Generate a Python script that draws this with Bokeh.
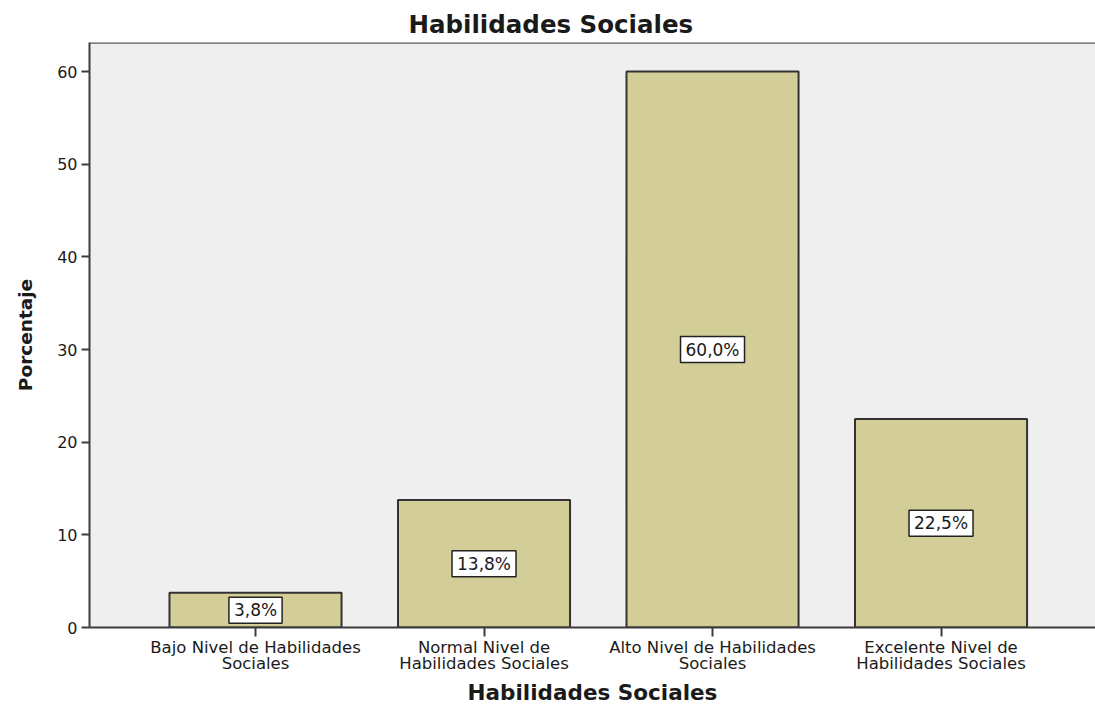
from bokeh.plotting import figure
from bokeh.models import ColumnDataSource, FixedTicker, Span, Range1d
from bokeh.core.properties import value
from bokeh.embed import file_html
from bokeh.resources import INLINE

# ---- data ----
categories = [
    "Bajo Nivel de Habilidades\nSociales",
    "Normal Nivel de\nHabilidades Sociales",
    "Alto Nivel de Habilidades\nSociales",
    "Excelente Nivel de\nHabilidades Sociales",
]
percentages = [3.75, 13.75, 60.0, 22.5]
bar_labels = ["3,8%", "13,8%", "60,0%", "22,5%"]
y_ticks = [0, 10, 20, 30, 40, 50, 60]

positions = list(range(len(categories)))
source = ColumnDataSource(dict(
    x=positions,
    top=percentages,
    mid=[v / 2 for v in percentages],
    label=bar_labels,
))

FONT = "DejaVu Sans"
TXT = "#1a1a1a"
Y_TOP = 63.13

p = figure(width=1095, height=707, output_backend="svg", toolbar_location=None,
           x_range=Range1d(-0.7265, 3.676), y_range=Range1d(0, Y_TOP))
p.min_border_left = 89
p.min_border_top = 42
p.min_border_right = 0
p.min_border_bottom = 80
p.background_fill_color = "#EFEFEF"
p.border_fill_color = "white"
p.outline_line_color = None
p.xgrid.visible = False
p.ygrid.visible = False

p.title.text = "Habilidades Sociales"
p.title.text_font = FONT
p.title.text_font_size = "24.5px"
p.title.text_font_style = "bold"
p.title.text_color = TXT
p.title.align = "left"
p.title.offset = 319
p.title.standoff = 7

p.vbar(x="x", top="top", width=0.753, source=source,
       fill_color="#D3CE97", line_color="#333333", line_width=2)

p.text(x="x", y="mid", text="label", source=source,
       text_align="center", text_baseline="middle",
       text_font=value(FONT), text_font_size="17px", text_color=TXT,
       background_fill_color="white", border_line_color="#222222",
       border_line_width=1.5, padding=(5, 3))

top_border = Span(location=Y_TOP, dimension="width", line_color="#5a5a5a", line_width=2.5)
p.add_layout(top_border)

# y axis
p.yaxis.ticker = FixedTicker(ticks=y_ticks)
p.yaxis.minor_tick_line_color = None
p.yaxis.major_tick_out = 8
p.yaxis.major_tick_in = 0
p.yaxis.major_tick_line_width = 2
p.yaxis.major_tick_line_color = "#3c3c3c"
p.yaxis.axis_line_width = 2
p.yaxis.axis_line_color = "#3c3c3c"
p.yaxis.major_label_text_font = FONT
p.yaxis.major_label_text_font_size = "16px"
p.yaxis.major_label_text_color = TXT
p.yaxis.major_label_standoff = 4
p.yaxis.axis_label = "Porcentaje"
p.yaxis.axis_label_text_font = FONT
p.yaxis.axis_label_text_font_size = "18.5px"
p.yaxis.axis_label_text_font_style = "bold"
p.yaxis.axis_label_text_color = TXT
p.yaxis.axis_label_standoff = 18

# x axis
p.xaxis.ticker = FixedTicker(ticks=positions)
p.xaxis.major_label_overrides = {i: c for i, c in zip(positions, categories)}
p.xaxis.minor_tick_line_color = None
p.xaxis.major_tick_out = 9
p.xaxis.major_tick_in = 0
p.xaxis.major_tick_line_width = 2
p.xaxis.major_tick_line_color = "#3c3c3c"
p.xaxis.axis_line_width = 2
p.xaxis.axis_line_color = "#3c3c3c"
p.xaxis.major_label_text_font = FONT
p.xaxis.major_label_text_font_size = "16.5px"
p.xaxis.major_label_text_color = TXT
p.xaxis.major_label_text_line_height = 0.85
p.xaxis.major_label_standoff = 1
p.xaxis.axis_label = "Habilidades Sociales"
p.xaxis.axis_label_text_font = FONT
p.xaxis.axis_label_text_font_size = "21.5px"
p.xaxis.axis_label_text_font_style = "bold"
p.xaxis.axis_label_text_color = TXT
p.xaxis.axis_label_standoff = 4

open("out.html", "w").write(file_html(p, INLINE))
